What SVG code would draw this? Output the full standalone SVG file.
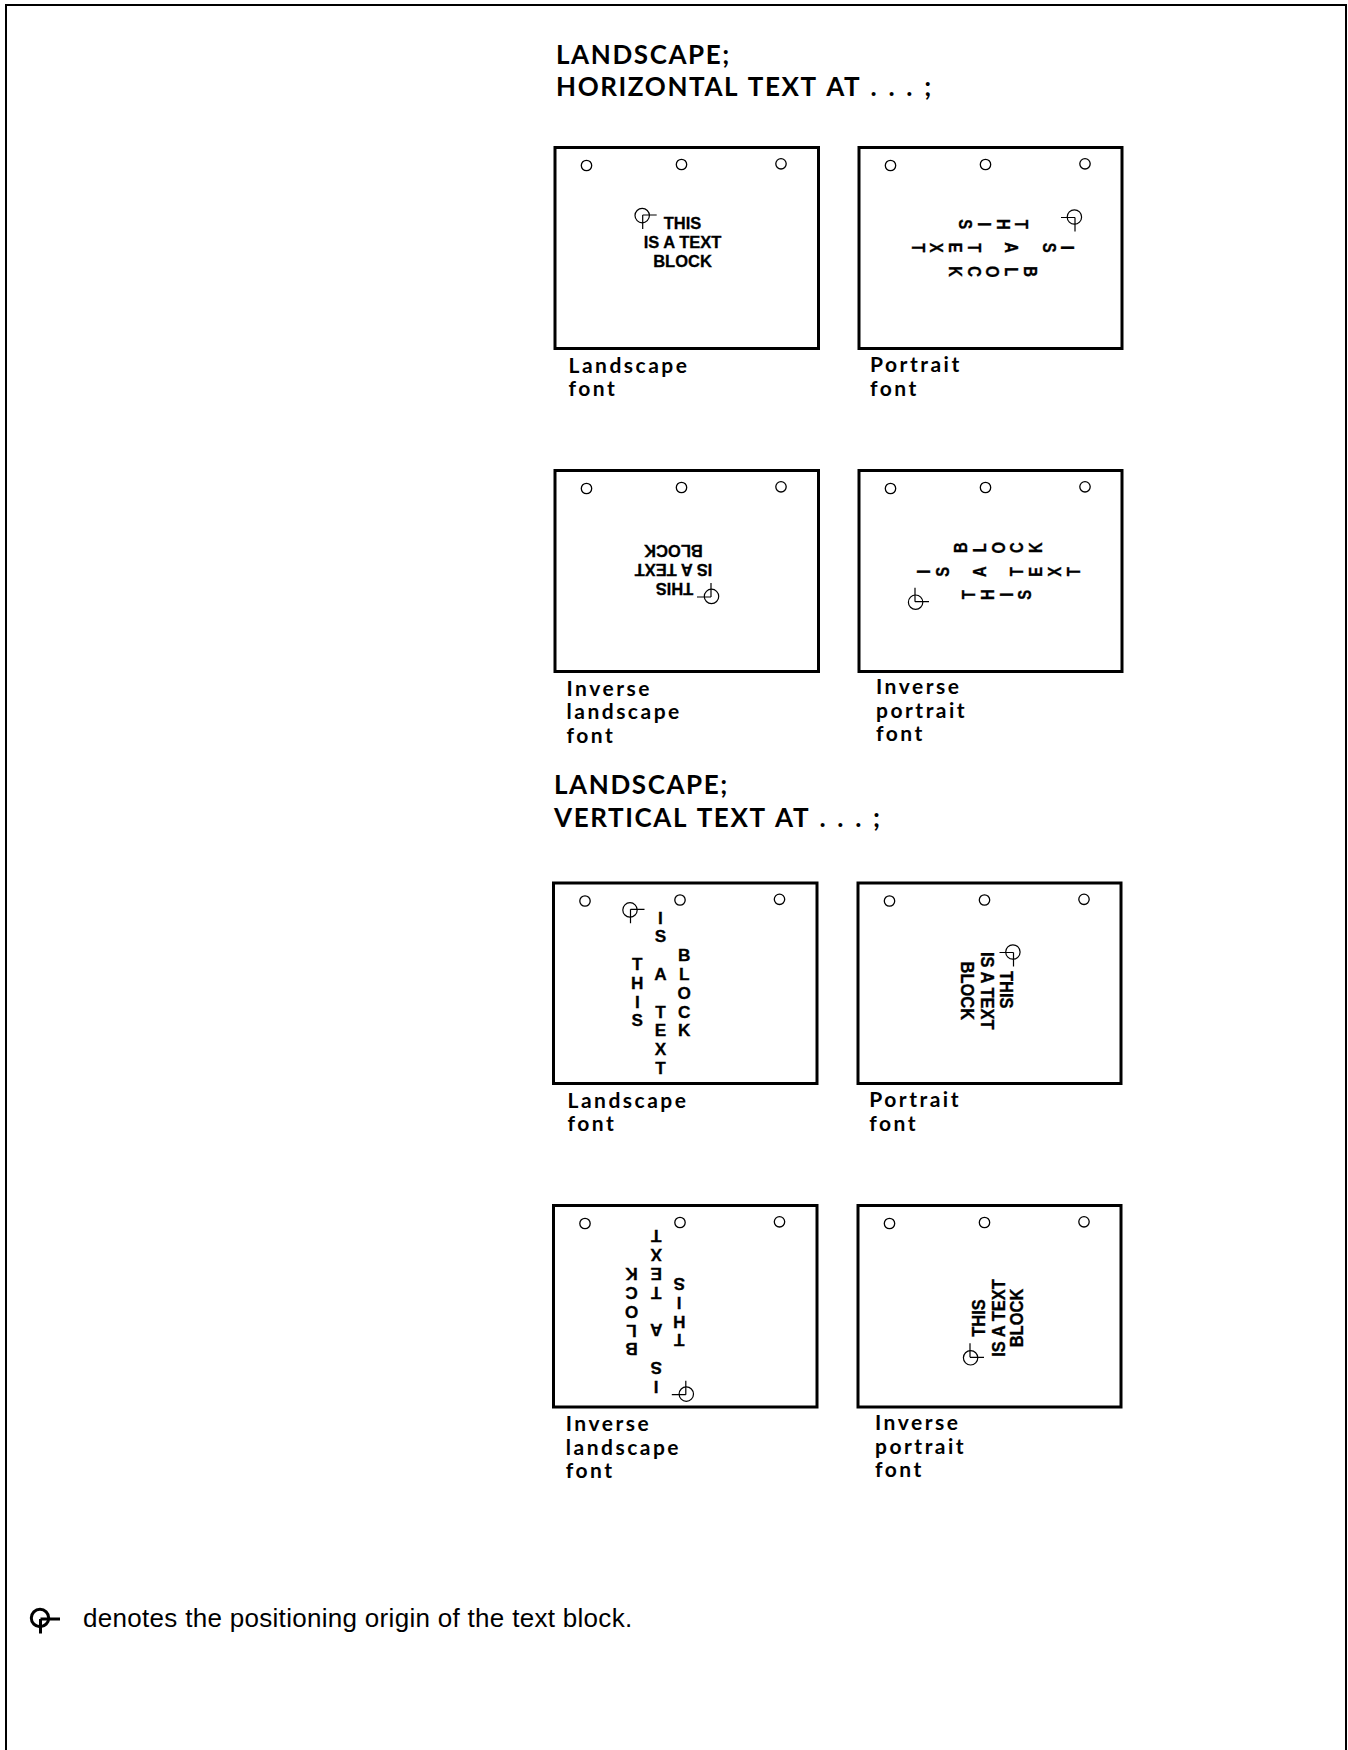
<svg xmlns="http://www.w3.org/2000/svg" width="1348" height="1750" viewBox="0 0 1348 1750">
<style>
.frame{fill:none;stroke:#000;stroke-width:2}
.box{fill:#fff;stroke:#000;stroke-width:3}
.hole{fill:#fff;stroke:#000;stroke-width:1.3}
.mark{fill:none;stroke:#000;stroke-width:1.2}
.legend{fill:none;stroke:#000;stroke-width:3}
.h{font:700 26px Lato,"Open Sans",sans-serif;letter-spacing:1.6px;word-spacing:2.2px;fill:#000}
.l{font:700 21px Lato,"Open Sans",sans-serif;letter-spacing:2.5px;fill:#000}
.t{font:700 16.5px "Liberation Sans",Arial,sans-serif;text-anchor:middle;fill:#000;stroke:#000;stroke-width:.3}
.v{font-size:17.2px}
.note{font:400 26px "Liberation Sans",Arial,sans-serif;letter-spacing:.3px;fill:#000}
</style>
<defs>
<g id="holes"><circle class="hole" cx="31.5" cy="18" r="5.2"/><circle class="hole" cx="126.5" cy="17" r="5.2"/><circle class="hole" cx="226" cy="16.3" r="5.2"/></g>
<g id="origin"><circle class="mark" cx="-0.5" cy="0.6" r="7.2"/><path class="mark" d="M0 0H14M0 0V14"/></g>
</defs>
<rect class="frame" x="6" y="5" width="1340" height="1755"/>
<text class="h" x="556" y="63.5">LANDSCAPE;<tspan x="556" y="96">HORIZONTAL TEXT AT . . . ;</tspan></text>
<text class="h" x="554" y="794">LANDSCAPE;<tspan x="554" y="826.5">VERTICAL TEXT AT . . . ;</tspan></text>

<g id="box-horizontal-landscape">
<rect class="box" x="555" y="147.5" width="263.5" height="201"/>
<use href="#holes" x="555" y="147.5"/>
<use href="#origin" transform="translate(642.7 215)"/>
<text class="t" x="682.5" y="229.3">THIS<tspan x="682.5" y="248.3">IS A TEXT</tspan><tspan x="682.5" y="267">BLOCK</tspan></text>
<text class="l" x="568.5" y="372.7">Landscape<tspan x="568.5" y="396">font</tspan></text>
</g>

<g id="box-horizontal-portrait">
<rect class="box" x="859" y="147.5" width="263" height="201"/>
<use href="#holes" x="859" y="147.5"/>
<use href="#origin" transform="translate(1075 217.5) rotate(90)"/>
<text class="t" transform="translate(1022 224.3) rotate(90) scale(.9 1.12)" x="0 0 0 0" y="5.9 22.6 39.3 56">THIS</text>
<text class="t" transform="translate(1068 247.7) rotate(90) scale(.9 1.12)" x="0 0 0 0 0 0 0 0 0" y="5.9 22.6 39.3 56 72.7 89.4 106.1 122.8 139.5">IS A TEXT</text>
<text class="t" transform="translate(1030.5 271.7) rotate(90) scale(.9 1.12)" x="0 0 0 0 0" y="5.9 22.6 39.3 56 72.7">BLOCK</text>
<text class="l" x="870" y="371.7">Portrait<tspan x="870" y="395.7">font</tspan></text>
</g>

<g id="box-horizontal-inverse-landscape">
<rect class="box" x="555" y="470.5" width="263.5" height="201"/>
<use href="#holes" x="555" y="470.5"/>
<use href="#origin" transform="translate(711 597) rotate(180)"/>
<g transform="translate(673.5 583.3) rotate(180)">
<text class="t" x="-1" y="0">THIS<tspan x="0" y="19">IS A TEXT</tspan><tspan x="0" y="38">BLOCK</tspan></text>
</g>
<text class="l" x="566.5" y="695.7">Inverse<tspan x="566.5" y="719.3">landscape</tspan><tspan x="566.5" y="742.7">font</tspan></text>
</g>

<g id="box-horizontal-inverse-portrait">
<rect class="box" x="859" y="470.5" width="263" height="201"/>
<use href="#holes" x="859" y="470.5"/>
<use href="#origin" transform="translate(915 601.7) rotate(-90)"/>
<text class="t" transform="translate(968.5 594.7) rotate(-90) scale(.9 1.12)" x="0 0 0 0" y="5.9 22.6 39.3 56">THIS</text>
<text class="t" transform="translate(923.3 571.7) rotate(-90) scale(.9 1.12)" x="0 0 0 0 0 0 0 0 0" y="5.9 22.6 39.3 56 72.7 89.4 106.1 122.8 139.5">IS A TEXT</text>
<text class="t" transform="translate(960.6 547.7) rotate(-90) scale(.9 1.12)" x="0 0 0 0 0" y="5.9 22.6 39.3 56 72.7">BLOCK</text>
<text class="l" x="876" y="694">Inverse<tspan x="876" y="717.7">portrait</tspan><tspan x="876" y="741">font</tspan></text>
</g>

<g id="box-vertical-landscape">
<rect class="box" x="553.5" y="883" width="263.5" height="200.5"/>
<use href="#holes" x="553.5" y="883"/>
<use href="#origin" transform="translate(630.5 909.3)"/>
<text class="t v" transform="translate(637.3 964)" x="0 0 0 0" y="6 24.8 43.6 62.4">THIS</text>
<text class="t v" transform="translate(660.4 917.7)" x="0 0 0 0 0 0 0 0 0" y="6 24.8 43.6 62.4 81.2 100 118.8 137.6 156.4">IS A TEXT</text>
<text class="t v" transform="translate(684.2 955.3)" x="0 0 0 0 0" y="6 24.8 43.6 62.4 81.2">BLOCK</text>
<text class="l" x="567.5" y="1107.7">Landscape<tspan x="567.5" y="1131">font</tspan></text>
</g>

<g id="box-vertical-portrait">
<rect class="box" x="858" y="883" width="263" height="200.5"/>
<use href="#holes" x="858" y="883"/>
<use href="#origin" transform="translate(1013.5 952.5) rotate(90)"/>
<g transform="translate(999.8 990.8) rotate(90) scale(1 1.1)">
<text class="t" x="-1" y="0">THIS<tspan x="0" y="17.5">IS A TEXT</tspan><tspan x="0" y="35">BLOCK</tspan></text>
</g>
<text class="l" x="869.3" y="1107.3">Portrait<tspan x="869.3" y="1130.7">font</tspan></text>
</g>

<g id="box-vertical-inverse-landscape">
<rect class="box" x="553.5" y="1205.5" width="263.5" height="201.5"/>
<use href="#holes" x="553.5" y="1205.5"/>
<use href="#origin" transform="translate(685.8 1394.7) rotate(180)"/>
<text class="t v" transform="translate(679.2 1340.3) rotate(180)" x="0 0 0 0" y="6 24.8 43.6 62.4">THIS</text>
<text class="t v" transform="translate(656.2 1386.7) rotate(180)" x="0 0 0 0 0 0 0 0 0" y="6 24.8 43.6 62.4 81.2 100 118.8 137.6 156.4">IS A TEXT</text>
<text class="t v" transform="translate(631.5 1349.3) rotate(180)" x="0 0 0 0 0" y="6 24.8 43.6 62.4 81.2">BLOCK</text>
<text class="l" x="565.8" y="1431">Inverse<tspan x="565.8" y="1455">landscape</tspan><tspan x="565.8" y="1478.3">font</tspan></text>
</g>

<g id="box-vertical-inverse-portrait">
<rect class="box" x="858" y="1205.5" width="263" height="201.5"/>
<use href="#holes" x="858" y="1205.5"/>
<use href="#origin" transform="translate(970 1357.3) rotate(-90)"/>
<g transform="translate(985.4 1318) rotate(-90) scale(1 1.1)">
<text class="t" x="0" y="0">THIS<tspan x="0" y="17.5">IS A TEXT</tspan><tspan x="0" y="34.6">BLOCK</tspan></text>
</g>
<text class="l" x="875" y="1430">Inverse<tspan x="875" y="1453.7">portrait</tspan><tspan x="875" y="1477">font</tspan></text>
</g>

<g id="legend">
<circle class="legend" cx="40" cy="1618" r="8.7"/>
<path class="legend" d="M40.5 1619H60M40.5 1619V1633.5"/>
<text class="note" x="83" y="1626.5">denotes the positioning origin of the text block.</text>
</g>
<g id="connectors"/>
</svg>
